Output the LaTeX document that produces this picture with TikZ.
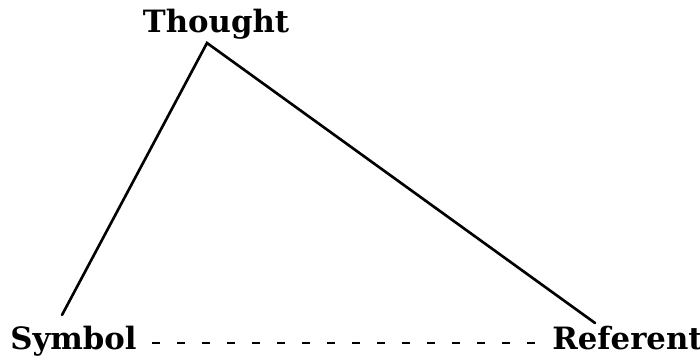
\documentclass[tikz,border=0pt]{standalone}
\usepackage{fontspec}
\setmainfont{DejaVu Serif}
\usetikzlibrary{positioning}

\begin{document}
\begin{tikzpicture}[
  term/.style={inner sep=0pt, anchor=base, font=\fontsize{17.5}{20}\selectfont\bfseries},
  edge/.style={line width=1.5pt, line cap=round, line join=miter},
  dashline/.style={line width=1.5pt, dash pattern=on 0.16cm off 0.34cm}
]
  \useasboundingbox (0,0) rectangle (14,7.16);

  \node[term] (thought) at (4.32,6.50) {Thought};
  \node[term] (symbol) at (1.47,0.16) {Symbol};
  \node[term] (referent) at (12.55,0.16) {Referent};

  \coordinate (apex) at (4.14,6.30);
  \coordinate (symtop) at (1.24,0.86);
  \coordinate (reftop) at (11.90,0.70);
  \coordinate (dashL) at (3.04,0.30);
  \coordinate (dashR) at (10.74,0.30);

  \draw[edge] (symtop) -- (apex) -- (reftop);
  \draw[dashline] (dashL) -- (dashR);
\end{tikzpicture}
\end{document}
